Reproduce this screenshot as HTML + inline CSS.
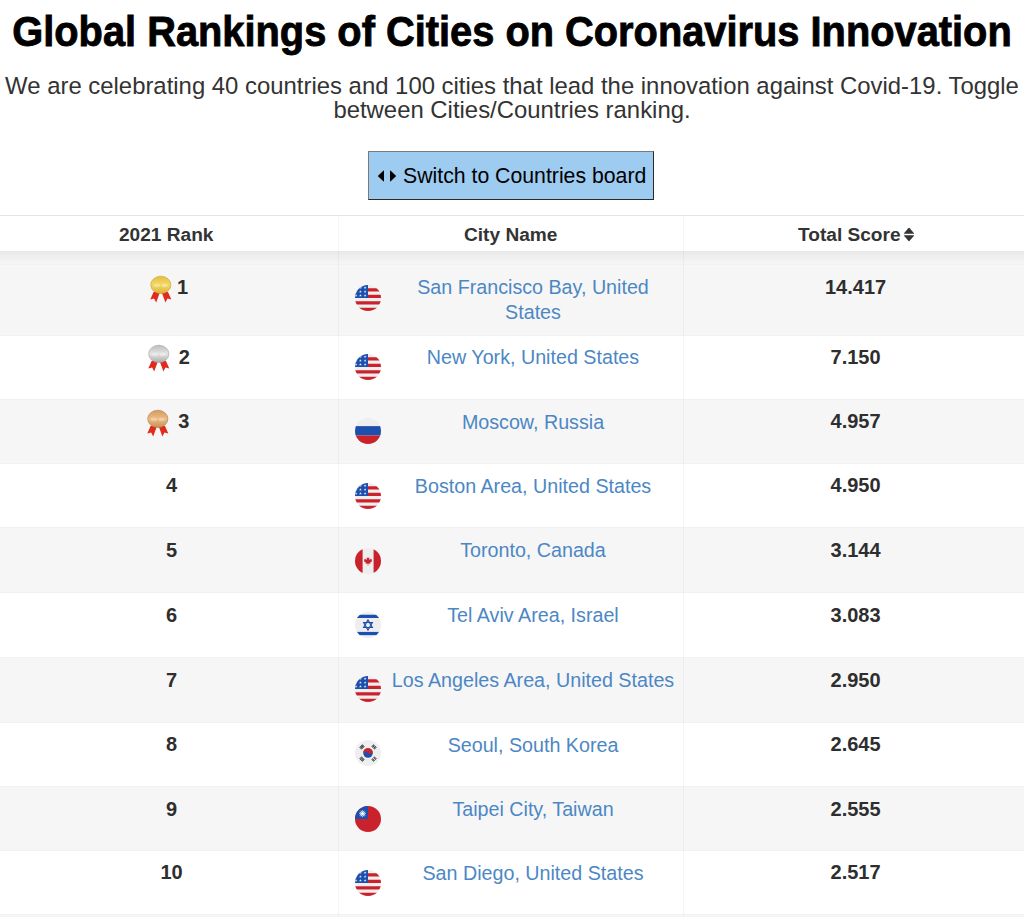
<!DOCTYPE html>
<html><head><meta charset="utf-8">
<style>
html,body{margin:0;padding:0;background:#fff;width:1024px;height:917px;overflow:hidden;position:relative;font-family:"Liberation Sans",sans-serif;}
.abs{position:absolute;white-space:nowrap;}
#title{left:0;width:1024px;text-align:center;font-weight:700;font-size:39.8px;line-height:40px;top:12px;color:#000;transform:scaleY(1.07);transform-origin:50% 33px;-webkit-text-stroke:0.8px #000;}
.sub{left:0;width:1024px;text-align:center;font-size:23.9px;line-height:25px;color:#333;}
#btn{left:368px;top:151px;width:284px;height:47px;background:#9ecbf0;border-top:1px solid #7a7a7a;border-left:1px solid #7a7a7a;border-right:1px solid #2a2a2a;border-bottom:1px solid #2a2a2a;}
#btntxt{left:403px;top:164.5px;font-size:21.25px;line-height:22px;color:#000;}
#tbl{left:0;top:215px;width:1024px;height:702px;}
.hline{position:absolute;left:0;width:1024px;height:1px;}
.row{position:absolute;left:0;width:1024px;}
.odd{background:#f6f6f6;}
.even{background:#fff;}
.vdiv{position:absolute;width:1px;background:rgba(0,0,0,0.035);}
.th{font-weight:700;font-size:19.1px;line-height:20px;color:#333;top:225px;}
.rk{font-weight:700;font-size:20px;line-height:20px;color:#2e2e2e;text-align:center;left:121.5px;width:100px;margin-top:-3px;}
.sc{font-weight:700;font-size:20px;line-height:20px;color:#2e2e2e;text-align:center;left:805.6px;width:100px;margin-top:-3px;}
.rkm{font-weight:700;font-size:20px;line-height:20px;color:#2e2e2e;margin-top:-3px;}
.flag{left:355px;width:26px;height:26px;}
.ct{font-size:19.7px;line-height:24.5px;color:#4c87c5;text-align:center;left:383px;width:300px;margin-top:-4.6px;}
</style></head><body>
<svg width="0" height="0" style="position:absolute">
<defs>
<clipPath id="cc"><circle cx="256" cy="256" r="256"/></clipPath>
<symbol id="f-us" viewBox="0 0 512 512"><g clip-path="url(#cc)"><rect width="512" height="512" fill="#eeeeee"/><path fill="#ca222d" d="M256 64h256v64H256zM256 192h256v64H256zM0 320h512v64H0zM0 448h512v64H0z"/><rect width="256" height="256" fill="#1c4fae"/><path fill="#eeeeee" d="M20,23 27,44 49,44 31,57 38,77 20,64 2,77 9,57 -9,44 13,44ZM107,23 114,44 136,44 118,57 125,77 107,64 89,77 96,57 78,44 100,44ZM199,23 206,44 228,44 210,57 217,77 199,64 181,77 188,57 170,44 192,44ZM20,100 27,121 49,121 31,134 38,154 20,141 2,154 9,134 -9,121 13,121ZM107,100 114,121 136,121 118,134 125,154 107,141 89,154 96,134 78,121 100,121ZM199,100 206,121 228,121 210,134 217,154 199,141 181,154 188,134 170,121 192,121ZM20,175 27,196 49,196 31,209 38,229 20,216 2,229 9,209 -9,196 13,196ZM107,175 114,196 136,196 118,209 125,229 107,216 89,229 96,209 78,196 100,196ZM199,175 206,196 228,196 210,209 217,229 199,216 181,229 188,209 170,196 192,196Z"/></g></symbol>
<symbol id="f-ru" viewBox="0 0 512 512"><g clip-path="url(#cc)"><rect width="512" height="512" fill="#eeeeee"/><rect y="160" width="512" height="184" fill="#1c4fae"/><rect y="344" width="512" height="168" fill="#ca222d"/></g></symbol>
<symbol id="f-ca" viewBox="0 0 512 512"><g clip-path="url(#cc)"><rect width="512" height="512" fill="#eeeeee"/><rect width="150" height="512" fill="#ca222d"/><rect x="366" width="146" height="512" fill="#ca222d"/><path fill="#ca222d" d="M256 171L268 200L286 192L278 240L305 214L312 228L336 222L328 248L340 254L296 290L304 310L262 304L262 345L250 345L250 304L208 310L216 290L172 254L184 248L176 222L200 228L207 214L234 240L226 192L244 200Z"/></g></symbol>
<symbol id="f-il" viewBox="0 0 512 512"><g clip-path="url(#cc)"><rect width="512" height="512" fill="#eeeeee"/><rect y="54" width="512" height="64" fill="#1c4fae"/><rect y="392" width="512" height="64" fill="#1c4fae"/><path fill="none" stroke="#1c4fae" stroke-width="24" d="M256 158L341 305H171ZM256 354L341 207H171Z"/></g></symbol>
<symbol id="f-kr" viewBox="0 0 512 512"><g clip-path="url(#cc)"><rect width="512" height="512" fill="#eeeeee"/><circle cx="256" cy="256" r="94" fill="#1c4fae"/><path fill="#ca222d" d="M162 256A94 94 0 0 1 350 256A47 14 0 0 1 256 256A47 14 0 0 0 162 256Z"/><g fill="#222"><g transform="translate(256 256) rotate(-45) translate(0 -168)"><rect x="-44" y="-30" width="88" height="16"/><rect x="-44" y="-8" width="88" height="16"/><rect x="-44" y="14" width="88" height="16"/></g><g transform="translate(256 256) rotate(45) translate(0 -168)"><rect x="-44" y="-30" width="38" height="16"/><rect x="6" y="-30" width="38" height="16"/><rect x="-44" y="-8" width="88" height="16"/><rect x="-44" y="14" width="38" height="16"/><rect x="6" y="14" width="38" height="16"/></g><g transform="translate(256 256) rotate(135) translate(0 -168)"><rect x="-44" y="-30" width="38" height="16"/><rect x="6" y="-30" width="38" height="16"/><rect x="-44" y="-8" width="38" height="16"/><rect x="6" y="-8" width="38" height="16"/><rect x="-44" y="14" width="38" height="16"/><rect x="6" y="14" width="38" height="16"/></g><g transform="translate(256 256) rotate(-135) translate(0 -168)"><rect x="-44" y="-30" width="88" height="16"/><rect x="-44" y="-8" width="38" height="16"/><rect x="6" y="-8" width="38" height="16"/><rect x="-44" y="14" width="88" height="16"/></g></g></g></symbol>
<symbol id="f-tw" viewBox="0 0 512 512"><g clip-path="url(#cc)"><rect width="512" height="512" fill="#ca222d"/><rect width="256" height="256" fill="#1c4fae"/><path fill="#fff" d="M148,76 159,109 185,86 178,120 212,113 189,139 222,150 189,161 212,187 178,180 185,214 159,191 148,224 137,191 111,214 118,180 84,187 107,161 74,150 107,139 84,113 118,120 111,86 137,109Z"/><circle cx="148" cy="150" r="40" fill="#1c4fae"/><circle cx="148" cy="150" r="33" fill="#fff"/></g></symbol>
<linearGradient id="gg" x1="0" y1="0" x2="0" y2="1"><stop offset="0" stop-color="#e6bf3c"/><stop offset="0.5" stop-color="#f3d868"/><stop offset="1" stop-color="#dcb032"/></linearGradient>
<linearGradient id="gs" x1="0" y1="0" x2="0" y2="1"><stop offset="0" stop-color="#bdbdbd"/><stop offset="0.5" stop-color="#e4e4e4"/><stop offset="1" stop-color="#aaaaaa"/></linearGradient>
<linearGradient id="gb" x1="0" y1="0" x2="0" y2="1"><stop offset="0" stop-color="#d49a5e"/><stop offset="0.5" stop-color="#ebbc85"/><stop offset="1" stop-color="#c98f55"/></linearGradient>
<symbol id="ribbons" viewBox="0 0 30 32"><path fill="#e02a1c" d="M7.6 20L14 20L10.2 30.4L8.1 26.6L4.3 27.6Z M15.6 20L22 20L25.3 27.4L21.5 26.5L19.4 30.4Z"/></symbol>
</defs></svg>
<div id="title" class="abs">Global Rankings of Cities on Coronavirus Innovation</div>
<div class="abs sub" style="top:73px">We are celebrating 40 countries and 100 cities that lead the innovation against Covid-19. Toggle</div>
<div class="abs sub" style="top:97px">between Cities/Countries ranking.</div>
<div id="btn" class="abs"></div>
<svg class="abs" style="left:377px;top:169.5px" width="20" height="12" viewBox="0 0 20 12">
<path d="M7 0.9 L7 11.1 Q7 11.9 6.3 11.3 L1.3 6.6 Q0.7 6 1.3 5.4 L6.3 0.7 Q7 0.1 7 0.9Z" fill="#000"/>
<path d="M13 0.9 L13 11.1 Q13 11.9 13.7 11.3 L18.7 6.6 Q19.3 6 18.7 5.4 L13.7 0.7 Q13 0.1 13 0.9Z" fill="#000"/>
</svg>
<div id="btntxt" class="abs">Switch to Countries board</div>

<!-- table -->
<div class="hline" style="top:215px;background:#e3e3e3"></div>
<div class="row" style="top:216px;height:35px;background:#fff"></div>
<!-- gap region with shadow -->
<div class="row odd" style="top:251px;height:13px"></div>
<div class="row" style="top:251px;height:13px;background:linear-gradient(rgba(0,0,0,0.055),rgba(0,0,0,0.0))"></div>
<div class="hline" style="top:264px;background:rgba(0,0,0,0.05)"></div>

<div class="row odd" style="top:265px;height:70px"></div>
<div class="hline" style="top:335px;background:rgba(0,0,0,0.05)"></div>
<div class="row even" style="top:336px;height:63px"></div>
<div class="hline" style="top:399px;background:rgba(0,0,0,0.05)"></div>
<div class="row odd" style="top:400px;height:63px"></div>
<div class="hline" style="top:463px;background:rgba(0,0,0,0.05)"></div>
<div class="row even" style="top:464px;height:63px"></div>
<div class="hline" style="top:527px;background:rgba(0,0,0,0.05)"></div>
<div class="row odd" style="top:528px;height:64px"></div>
<div class="hline" style="top:592px;background:rgba(0,0,0,0.05)"></div>
<div class="row even" style="top:593px;height:64px"></div>
<div class="hline" style="top:657px;background:rgba(0,0,0,0.05)"></div>
<div class="row odd" style="top:658px;height:64px"></div>
<div class="hline" style="top:722px;background:rgba(0,0,0,0.05)"></div>
<div class="row even" style="top:723px;height:63px"></div>
<div class="hline" style="top:786px;background:rgba(0,0,0,0.05)"></div>
<div class="row odd" style="top:787px;height:63px"></div>
<div class="hline" style="top:850px;background:rgba(0,0,0,0.05)"></div>
<div class="row even" style="top:851px;height:63px"></div>
<div class="hline" style="top:914px;background:rgba(0,0,0,0.05)"></div>
<div class="row odd" style="top:915px;height:2px"></div>

<div class="vdiv" style="left:338px;top:216px;height:701px"></div>
<div class="vdiv" style="left:683px;top:216px;height:701px"></div>

<!-- header text -->
<div class="abs th" style="left:119px">2021 Rank</div>
<div class="abs th" style="left:464px">City Name</div>
<div class="abs th" style="left:798px">Total Score</div>
<svg class="abs" style="left:903px;top:227px" width="12" height="15" viewBox="0 0 12 15">
<path d="M1 6.3 L5.3 1.2 Q6 0.5 6.7 1.2 L11 6.3 Q11.3 6.8 10.6 6.8 L1.4 6.8 Q0.7 6.8 1 6.3Z" fill="#333"/>
<path d="M1 8.7 L5.3 13.8 Q6 14.5 6.7 13.8 L11 8.7 Q11.3 8.2 10.6 8.2 L1.4 8.2 Q0.7 8.2 1 8.7Z" fill="#333"/>
</svg>

<!-- rows -->
<svg class="abs" style="left:146px;top:272px" width="30" height="32" viewBox="0 0 30 32"><use href="#ribbons"/><ellipse cx="14.8" cy="12.9" rx="10.1" ry="8.7" fill="url(#gg)" stroke="#c79a2c" stroke-width="0.6"/><ellipse cx="11" cy="13.3" rx="3.2" ry="1.9" fill="#fff" opacity=".3"/><ellipse cx="18.6" cy="13.3" rx="3.2" ry="1.9" fill="#fff" opacity=".3"/></svg>
<div class="abs rkm" style="left:177.1px;top:279.8px">1</div>
<div class="abs ct" style="top:279.8px">San Francisco Bay, United<br>States</div>
<div class="abs sc" style="top:279.8px">14.417</div>
<svg class="abs flag" style="top:284.8px" viewBox="0 0 512 512"><use href="#f-us"/></svg>
<svg class="abs" style="left:143.5px;top:340.6px" width="30" height="32" viewBox="0 0 30 32"><use href="#ribbons"/><ellipse cx="14.8" cy="12.9" rx="10.1" ry="8.7" fill="url(#gs)" stroke="#a0a0a0" stroke-width="0.6"/><ellipse cx="11" cy="13.3" rx="3.2" ry="1.9" fill="#fff" opacity=".3"/><ellipse cx="18.6" cy="13.3" rx="3.2" ry="1.9" fill="#fff" opacity=".3"/></svg>
<div class="abs rkm" style="left:178.7px;top:350.0px">2</div>
<div class="abs ct" style="top:350.0px">New York, United States</div>
<div class="abs sc" style="top:350.0px">7.150</div>
<svg class="abs flag" style="top:353.5px" viewBox="0 0 512 512"><use href="#f-us"/></svg>
<svg class="abs" style="left:143.3px;top:405.9px" width="30" height="32" viewBox="0 0 30 32"><use href="#ribbons"/><ellipse cx="14.8" cy="12.9" rx="10.1" ry="8.7" fill="url(#gb)" stroke="#b57a40" stroke-width="0.6"/><ellipse cx="11" cy="13.3" rx="3.2" ry="1.9" fill="#fff" opacity=".3"/><ellipse cx="18.6" cy="13.3" rx="3.2" ry="1.9" fill="#fff" opacity=".3"/></svg>
<div class="abs rkm" style="left:178.2px;top:414.3px">3</div>
<div class="abs ct" style="top:414.3px">Moscow, Russia</div>
<div class="abs sc" style="top:414.3px">4.957</div>
<svg class="abs flag" style="top:418.0px" viewBox="0 0 512 512"><use href="#f-ru"/></svg>
<div class="abs rk" style="top:478.2px">4</div>
<div class="abs ct" style="top:478.2px">Boston Area, United States</div>
<div class="abs sc" style="top:478.2px">4.950</div>
<svg class="abs flag" style="top:483.2px" viewBox="0 0 512 512"><use href="#f-us"/></svg>
<div class="abs rk" style="top:542.9px">5</div>
<div class="abs ct" style="top:542.9px">Toronto, Canada</div>
<div class="abs sc" style="top:542.9px">3.144</div>
<svg class="abs flag" style="top:548.0px" viewBox="0 0 512 512"><use href="#f-ca"/></svg>
<div class="abs rk" style="top:608.0px">6</div>
<div class="abs ct" style="top:608.0px">Tel Aviv Area, Israel</div>
<div class="abs sc" style="top:608.0px">3.083</div>
<svg class="abs flag" style="top:612.0px" viewBox="0 0 512 512"><use href="#f-il"/></svg>
<div class="abs rk" style="top:672.9px">7</div>
<div class="abs ct" style="top:672.9px">Los Angeles Area, United States</div>
<div class="abs sc" style="top:672.9px">2.950</div>
<svg class="abs flag" style="top:676.1px" viewBox="0 0 512 512"><use href="#f-us"/></svg>
<div class="abs rk" style="top:737.2px">8</div>
<div class="abs ct" style="top:737.2px">Seoul, South Korea</div>
<div class="abs sc" style="top:737.2px">2.645</div>
<svg class="abs flag" style="top:740.2px" viewBox="0 0 512 512"><use href="#f-kr"/></svg>
<div class="abs rk" style="top:801.8px">9</div>
<div class="abs ct" style="top:801.8px">Taipei City, Taiwan</div>
<div class="abs sc" style="top:801.8px">2.555</div>
<svg class="abs flag" style="top:806.0px" viewBox="0 0 512 512"><use href="#f-tw"/></svg>
<div class="abs rk" style="top:865.3px">10</div>
<div class="abs ct" style="top:865.3px">San Diego, United States</div>
<div class="abs sc" style="top:865.3px">2.517</div>
<svg class="abs flag" style="top:870.3px" viewBox="0 0 512 512"><use href="#f-us"/></svg>
</body></html>
